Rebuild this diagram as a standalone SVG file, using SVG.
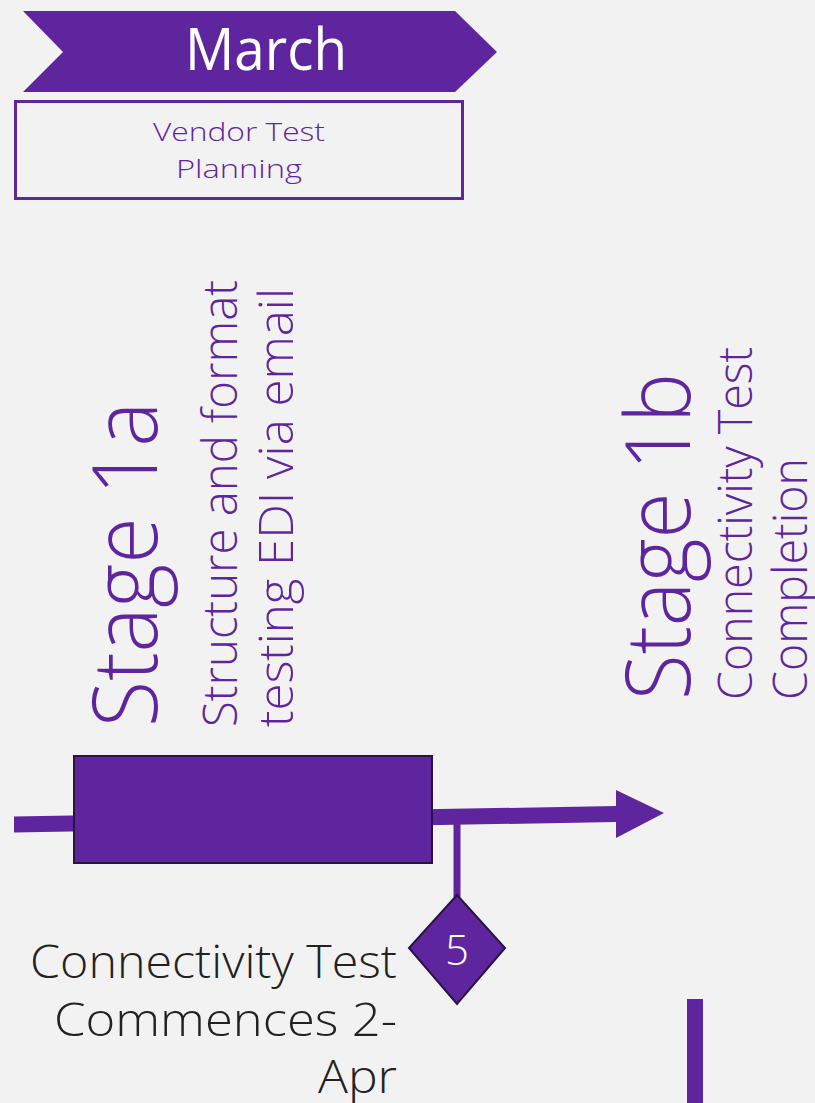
<svg xmlns="http://www.w3.org/2000/svg" width="815" height="1103" viewBox="0 0 815 1103">
<style>
.p{fill:#5f259f}
.sans{font-family:"Open Sans","Noto Sans","Liberation Sans",sans-serif}
.lt{font-weight:300}
.pt{fill:#5f259f}
.edge{stroke:#2b1245;stroke-width:2}
</style>
<rect width="815" height="1103" fill="#f2f2f2"/>
<g id="march">
<polygon class="p" points="23,11 455,11 497,52 455,92 23,92 63,52"/>
<text class="sans" x="266" y="70" font-size="58" fill="#ffffff" text-anchor="middle" textLength="162" lengthAdjust="spacingAndGlyphs">March</text>
</g>
<g id="vendor">
<rect x="15.5" y="101.5" width="447" height="97" fill="none" stroke="#5f259f" stroke-width="3"/>
<text class="sans lt pt" x="239" y="141" font-size="25" text-anchor="middle" textLength="172" lengthAdjust="spacingAndGlyphs">Vendor Test</text>
<text class="sans lt pt" x="239" y="178" font-size="25" text-anchor="middle" textLength="126" lengthAdjust="spacingAndGlyphs">Planning</text>
</g>
<g id="connectors">
<polygon class="p" points="14,816.5 616,806 616,790 664,813 616,838 616,822 14,832.5"/>
<rect class="p" x="453.5" y="822" width="7" height="75"/>
<rect class="p" x="687" y="999" width="16" height="104"/>
</g>
<g id="stage1a">
<rect class="p edge" x="74" y="756" width="358" height="107"/>
<text class="sans lt pt" transform="translate(157,727) rotate(-90)" font-size="90" textLength="325" lengthAdjust="spacingAndGlyphs">Stage 1a</text>
<text class="sans lt pt" transform="translate(237,727) rotate(-90)" font-size="48" textLength="447" lengthAdjust="spacingAndGlyphs">Structure and format</text>
<text class="sans lt pt" transform="translate(293,727) rotate(-90)" font-size="48" textLength="439" lengthAdjust="spacingAndGlyphs">testing EDI via email</text>
</g>
<g id="stage1b">
<text class="sans lt pt" transform="translate(690,700) rotate(-90)" font-size="90" textLength="327" lengthAdjust="spacingAndGlyphs">Stage 1b</text>
<text class="sans lt pt" transform="translate(752,700) rotate(-90)" font-size="48" textLength="353" lengthAdjust="spacingAndGlyphs">Connectivity Test</text>
<text class="sans lt pt" transform="translate(807,700) rotate(-90)" font-size="48" textLength="242" lengthAdjust="spacingAndGlyphs">Completion</text>
</g>
<g id="milestone5">
<polygon class="p edge" points="457,895 505,948 457,1004 409,948"/>
<text class="sans lt" x="457" y="965" font-size="42" fill="#ffffff" text-anchor="middle">5</text>
</g>
<g id="milestone-label">
<text class="sans lt" x="397" y="978" font-size="46" fill="#222222" text-anchor="end" textLength="367" lengthAdjust="spacingAndGlyphs">Connectivity Test</text>
<text class="sans lt" x="397" y="1036" font-size="46" fill="#222222" text-anchor="end" textLength="343" lengthAdjust="spacingAndGlyphs">Commences 2-</text>
<text class="sans lt" x="397" y="1093" font-size="46" fill="#222222" text-anchor="end" textLength="79" lengthAdjust="spacingAndGlyphs">Apr</text>
</g>
</svg>
